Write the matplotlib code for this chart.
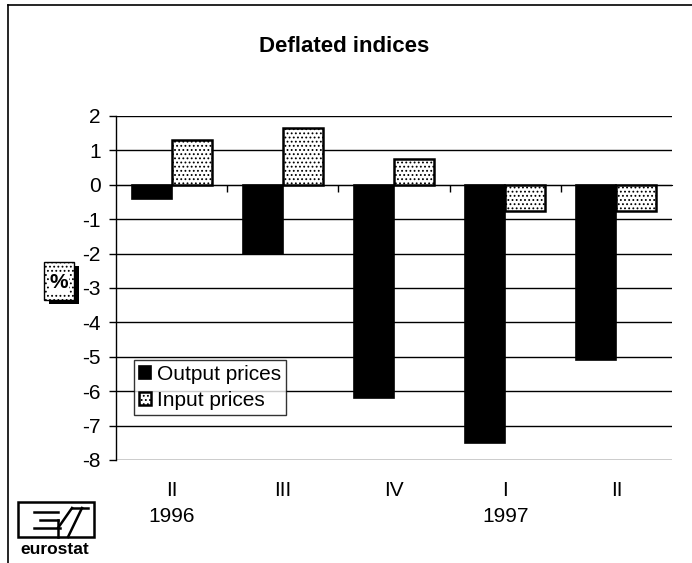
import numpy as np
import matplotlib
matplotlib.use("Agg")
import matplotlib.pyplot as plt
from matplotlib.patches import Rectangle
from matplotlib.lines import Line2D
import matplotlib.transforms as mtransforms

plt.rcParams['font.family'] = ['Liberation Sans', 'DejaVu Sans']
plt.rcParams['axes.unicode_minus'] = False
plt.rcParams['hatch.color'] = '#888888'
plt.rcParams['hatch.linewidth'] = 0.8

# data
quarters = ['II', 'III', 'IV', 'I', 'II']
years = ['1996', '', '', '1997', '']
output_prices = [-0.4, -2.0, -6.2, -7.5, -5.1]
input_prices = [1.3, 1.65, 0.75, -0.75, -0.75]

fig = plt.figure(figsize=(6.92, 5.63), dpi=100)
ax = fig.add_axes([0.1676, 0.183, 0.8035, 0.611])

x = np.arange(len(quarters))
w = 0.36

ax.bar(x - w / 2, output_prices, w, color='black', edgecolor='black',
       linewidth=1.2, label='Output prices', zorder=3)
ax.bar(x + w / 2, input_prices, w, color='white', edgecolor='black',
       linewidth=1.8, hatch='....', label='Input prices', zorder=3)

ax.set_ylim(-8, 2)
ax.set_xlim(-0.5, 4.5)
ax.set_yticks(np.arange(-8, 3, 1))
ax.yaxis.grid(True, color='black', linewidth=1.0, zorder=0)
ax.tick_params(axis='y', labelsize=15, length=5, width=1, direction='out', pad=6)

# category axis sits on zero
ax.spines['bottom'].set_position(('data', 0))
ax.spines['top'].set_visible(False)
ax.spines['right'].set_visible(False)
ax.spines['left'].set_linewidth(1.0)
ax.set_xticks(x[:-1] + 0.5)
ax.set_xticklabels([])
ax.tick_params(axis='x', length=5, width=1, direction='out')

trans = mtransforms.blended_transform_factory(ax.transData, fig.transFigure)
for i, (q, yr) in enumerate(zip(quarters, years)):
    ax.text(i, 1 - 490 / 563, q, transform=trans, ha='center', va='center', fontsize=15)
    if yr:
        ax.text(i, 1 - 516 / 563, yr, transform=trans, ha='center', va='center', fontsize=15)

leg = ax.legend(loc='lower left', bbox_to_anchor=(0.032, 0.13), fontsize=15,
                frameon=True, fancybox=False, edgecolor='black',
                handlelength=0.6, handleheight=0.6, handletextpad=0.25,
                borderpad=0.25, labelspacing=0.35, borderaxespad=0)
leg.get_frame().set_linewidth(1.0)
leg.set_zorder(5)

fig.text(0.497, 1 - 47 / 563, 'Deflated indices', ha='center', va='center',
         fontsize=16, fontweight='bold')

# "%" box with shadow
fig.patches.append(Rectangle((49 / 692, 1 - 304 / 563), 30 / 692, 38 / 563,
                             transform=fig.transFigure, facecolor='black', zorder=1))
fig.patches.append(Rectangle((44 / 692, 1 - 300 / 563), 30 / 692, 38 / 563,
                             transform=fig.transFigure, facecolor='white',
                             edgecolor='black', hatch='....', linewidth=1, zorder=2))
fig.text(59 / 692, 1 - 283 / 563, '%', ha='center', va='center', fontsize=15,
         fontweight='bold', zorder=3,
         bbox=dict(facecolor='white', edgecolor='none', pad=0.5))

# outer frame
fig.add_artist(Line2D([8 / 692, 8 / 692], [1 - 5 / 563, 0], transform=fig.transFigure,
                      color='black', linewidth=1.2))
fig.add_artist(Line2D([8 / 692, 1], [1 - 5 / 563, 1 - 5 / 563], transform=fig.transFigure,
                      color='black', linewidth=1.2))

# eurostat logo
fig.patches.append(Rectangle((18 / 692, 1 - 537 / 563), 76 / 692, 35 / 563,
                             transform=fig.transFigure, facecolor='white',
                             edgecolor='black', linewidth=1.8))
logo_lines = [
    ([34, 58], [512, 512]), ([40, 58], [520, 520]), ([34, 60], [528, 528]),
    ([58, 72], [528, 508]), ([58, 58], [520, 537]), ([68, 82], [537, 508]),
    ([72, 88], [508, 508]),
]
for xs, ys in logo_lines:
    fig.add_artist(Line2D([v / 692 for v in xs], [1 - v / 563 for v in ys],
                          transform=fig.transFigure, color='black', linewidth=1.8))
fig.text(55 / 692, 1 - 550 / 563, 'eurostat', ha='center', va='center',
         fontsize=12.5, fontweight='bold')

fig.savefig('out.png', dpi=100)
